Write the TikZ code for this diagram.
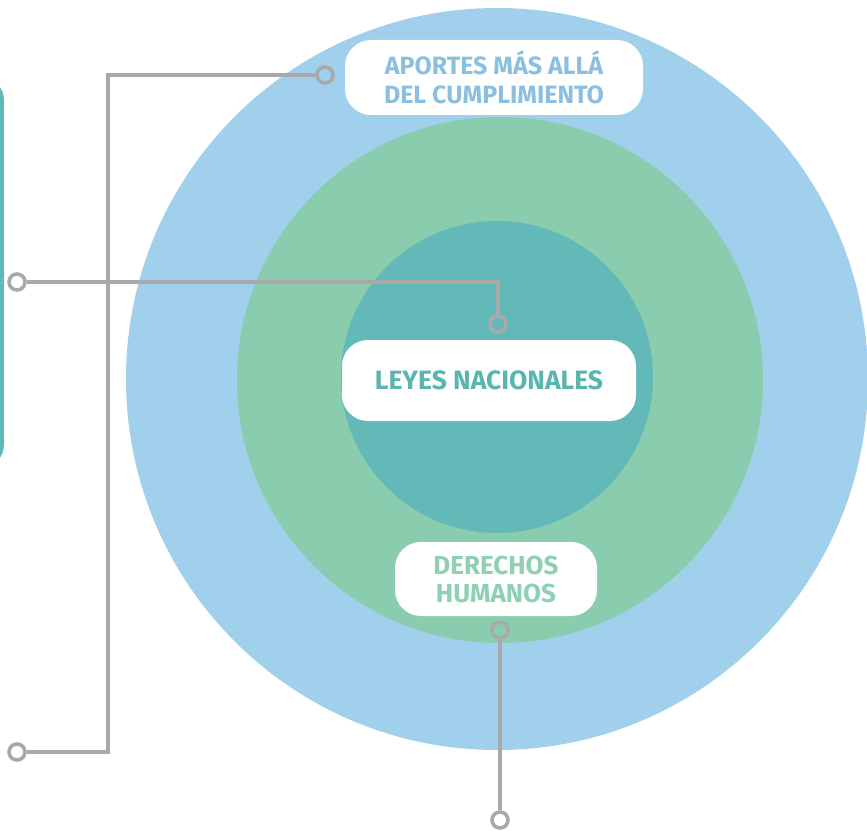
\documentclass[tikz,border=0pt]{standalone}
\usepackage{fontspec}
\setmainfont{Fira Sans}
\usetikzlibrary{positioning}
\definecolor{azul}{HTML}{A0D0EC}
\definecolor{verde}{HTML}{8ACDAE}
\definecolor{turquesa}{HTML}{63B9B8}
\definecolor{gris}{HTML}{A9A9AC}
\definecolor{azultexto}{HTML}{8BBFE0}
\definecolor{verdetexto}{HTML}{8DD0B2}
\definecolor{turqtexto}{HTML}{5AB5B0}
\tikzstyle{etiqueta} = [fill=white, rounded corners=26pt, align=center, inner sep=0pt, font=\bfseries]
\tikzstyle{punto} = [circle, draw=gris, line width=3.6pt, minimum size=16pt, inner sep=0pt]
\tikzstyle{linea} = [draw=gris, line width=3.6pt]

\begin{document}
\begin{tikzpicture}[x=1pt, y=-1pt]
		\useasboundingbox (0,0) rectangle (867,832);
		% Cuadro lateral
		\fill[turquesa, rounded corners=22pt] (-60,78) rectangle (4,467);
		
		% Circulos concentricos
		\fill[azul] (497,379) circle (371);
		\fill[verde] (500,380) circle (263);
		\fill[turquesa] (497,377) circle (156);
		
		% Etiquetas de los niveles
		\node[etiqueta, minimum width=298pt, minimum height=75pt, text=azultexto, font=\bfseries\fontsize{25}{29}\selectfont] (aportes) at (494,77.5) {APORTES MÁS ALLÁ\\DEL CUMPLIMIENTO};
		\node[etiqueta, minimum width=294pt, minimum height=81pt, text=turqtexto, font=\bfseries\fontsize{26.5}{30}\selectfont] (leyes) at (489,380.5) {LEYES NACIONALES};
		\node[etiqueta, minimum width=202pt, minimum height=74pt, text=verdetexto, font=\bfseries\fontsize{26}{28}\selectfont] (derechos) at (496,579) {DERECHOS\\HUMANOS};
		
		% Puntos de los conectores
		\node[punto] (p1) at (325,75) {};
		\node[punto] (p2) at (17,752) {};
		\node[punto] (p3) at (17,282) {};
		\node[punto] (p4) at (498,324) {};
		\node[punto] (p5) at (500,630) {};
		\node[punto] (p6) at (500,820) {};
		\coordinate (esq) at (108,752);
		
		% Conectores
		\path [linea] (p1) -| (esq) -- (p2);
		\path [linea] (p3) -| (p4);
		\path [linea] (p5) -- (p6);
	\end{tikzpicture}
\end{document}
